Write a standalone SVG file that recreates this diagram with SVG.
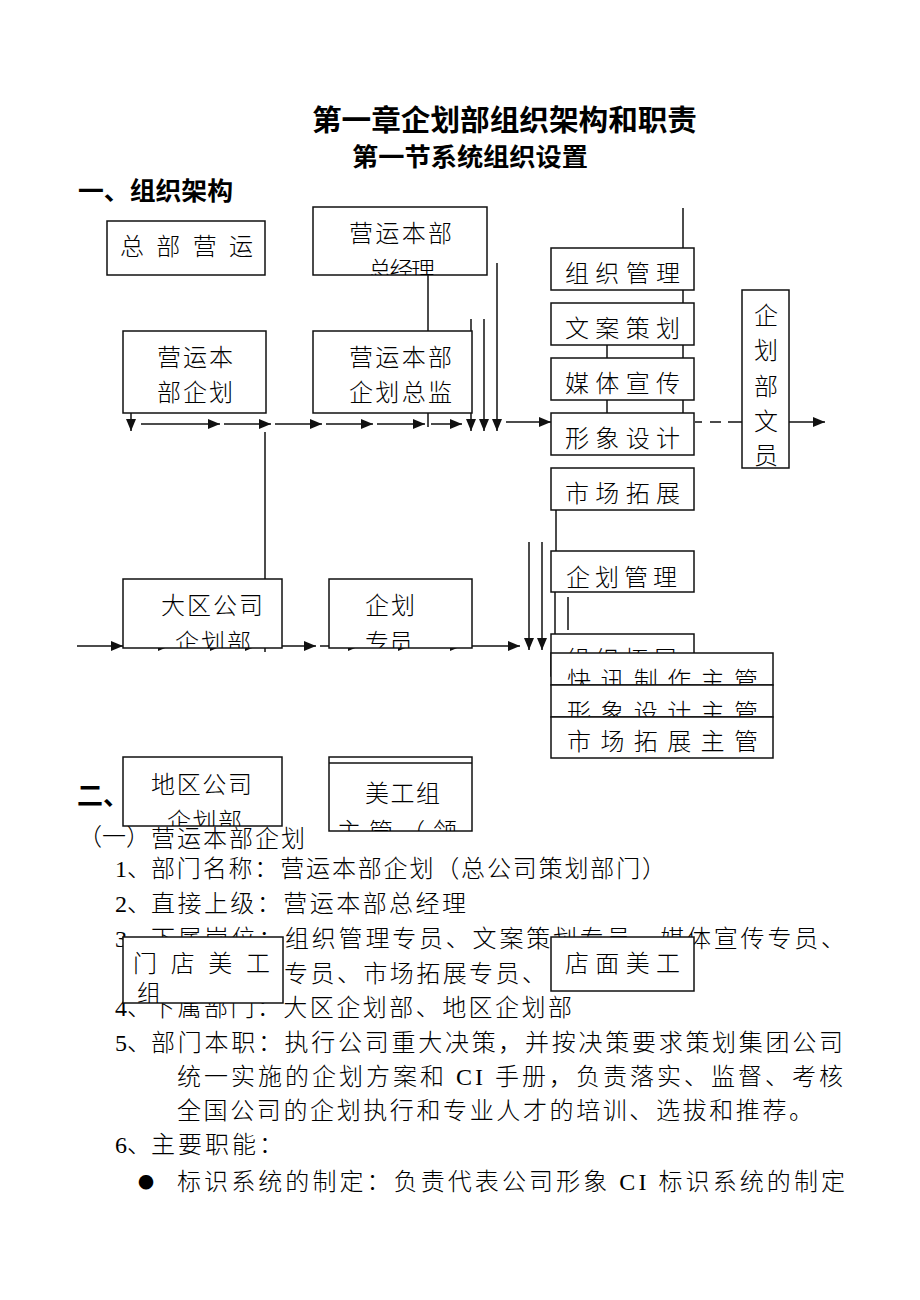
<svg xmlns="http://www.w3.org/2000/svg" width="920" height="1300" viewBox="0 0 920 1300">
<style>
.h{font-family:"Noto Sans CJK SC",sans-serif;font-weight:700;fill:#000}
.t{font-family:"Liberation Serif","Noto Sans CJK SC",serif;font-weight:300;fill:#000;font-size:24px}
.bt{font-family:"Liberation Serif","Noto Sans CJK SC",serif;font-weight:300;fill:#000;font-size:24px}
.bx{fill:#fff;stroke:#111;stroke-width:1.5}
.ln{fill:none;stroke:#111;stroke-width:1.5}
.ar{fill:none;stroke:#111;stroke-width:1.5;marker-end:url(#ah)}
</style>
<defs>
<marker id="ah" viewBox="0 0 12 10" markerWidth="12" markerHeight="10" refX="12" refY="5" orient="auto" markerUnits="userSpaceOnUse"><path d="M0,0L12,5L0,10z" fill="#111"/></marker>
<clipPath id="c-zjl"><rect x="313" y="207" width="174" height="68"/></clipPath>
<clipPath id="c-dq"><rect x="123" y="579" width="159" height="69"/></clipPath>
<clipPath id="c-qhzy"><rect x="329" y="579" width="143" height="69"/></clipPath>
<clipPath id="c-dqgs"><rect x="123" y="757" width="159" height="69"/></clipPath>
<clipPath id="c-mgz"><rect x="329" y="757" width="143" height="74"/></clipPath>
<clipPath id="c-mdmg"><rect x="123" y="937" width="160" height="66"/></clipPath>
</defs>

<g id="titles">
<text class="h" x="312" y="131" font-size="29" textLength="385" lengthAdjust="spacingAndGlyphs">第一章企划部组织架构和职责</text>
<text class="h" x="352" y="166" font-size="25" textLength="236" lengthAdjust="spacingAndGlyphs">第一节系统组织设置</text>
<text class="h" x="78" y="200" font-size="25" textLength="155" lengthAdjust="spacingAndGlyphs">一、组织架构</text>
</g>

<g id="body">
<text class="h" x="77" y="805" font-size="26">二、</text>
<text class="t" x="78" y="845" font-size="20">（一）</text>
<text class="t" x="151" y="847" textLength="154">营运本部企划</text>
<text class="t" x="115" y="877">1、</text>
<text class="t" x="151" y="877" textLength="515">部门名称：营运本部企划（总公司策划部门）</text>
<text class="t" x="115" y="912">2、</text>
<text class="t" x="151" y="912" textLength="315">直接上级：营运本部总经理</text>
<text class="t" x="115" y="947">3、</text>
<text class="t" x="151" y="947" textLength="694">下属岗位：组织管理专员、文案策划专员、媒体宣传专员、</text>
<text class="t" x="284" y="982" textLength="262">专员、市场拓展专员、</text>
<text class="t" x="115" y="1016">4、</text>
<text class="t" x="151" y="1016" textLength="421">下属部门：大区企划部、地区企划部</text>
<text class="t" x="115" y="1051">5、</text>
<text class="t" x="151" y="1051" textLength="692">部门本职：执行公司重大决策，并按决策要求策划集团公司</text>
<text class="t" x="177" y="1085" textLength="666">统一实施的企划方案和 CI 手册，负责落实、监督、考核</text>
<text class="t" x="177" y="1119" textLength="636">全国公司的企划执行和专业人才的培训、选拔和推荐。</text>
<text class="t" x="115" y="1153">6、</text>
<text class="t" x="151" y="1153" textLength="132">主要职能：</text>
<text x="138" y="1188" font-family="Noto Sans CJK SC,sans-serif" font-size="16">●</text>
<text class="t" x="177" y="1190" textLength="668">标识系统的制定：负责代表公司形象 CI 标识系统的制定</text>
</g>

<g id="connectors">
<path class="ar" d="M131,413V431"/>
<path class="ar" d="M141,424H220"/>
<path class="ar" d="M224,424H271"/>
<path class="ar" d="M275,424H322"/>
<path class="ar" d="M326,424H373"/>
<path class="ar" d="M377,424H425"/>
<path class="ln" d="M428,275V427"/>
<path class="ar" d="M431,424H462"/>
<path class="ar" d="M471,319V431"/>
<path class="ar" d="M484,319V431"/>
<path class="ar" d="M497,263V431"/>
<path class="ar" d="M506,422H551"/>
<path class="ln" d="M265,432V652"/>
<path class="ln" d="M683,208V413"/>
<path class="ln" d="M607,345V413"/>
<path class="ln" d="M695,422H702M710,422H721M728,422H742"/>
<path class="ar" d="M789,422H825"/>
<path class="ln" d="M556,510V552"/>
<path class="ln" d="M555,592V634"/>
<path class="ln" d="M568,597V630"/>
<path class="ar" d="M529,542V650"/>
<path class="ar" d="M542,542V650"/>
<path class="ar" d="M77,646H123"/>
<path class="ar" d="M128,646H170"/>
<path class="ar" d="M175,646H222"/>
<path class="ar" d="M227,646H257"/>
<path class="ar" d="M282,646H316"/>
<path class="ln" d="M320,646H329"/>
<path class="ar" d="M330,646H360"/>
<path class="ar" d="M365,646H410"/>
<path class="ar" d="M415,646H462"/>
<path class="ar" d="M472,646H520"/>
</g>

<g id="n-zbyy">
<rect class="bx" x="107" y="221" width="158" height="54"/>
<text class="bt" x="120" y="255" font-size="22" textLength="133">总部营运</text>
</g>
<g id="n-zjl">
<rect class="bx" x="313" y="207" width="174" height="68"/>
<text class="bt" x="349" y="242" font-size="25" textLength="103">营运本部</text>
<text class="bt" x="368" y="279" font-size="21" textLength="67" clip-path="url(#c-zjl)">总经理</text>
</g>
<g id="n-qh">
<rect class="bx" x="123" y="331" width="143" height="82"/>
<text class="bt" x="157" y="366" font-size="25" textLength="76">营运本</text>
<text class="bt" x="157" y="401" font-size="25" textLength="76">部企划</text>
</g>
<g id="n-zj">
<rect class="bx" x="313" y="331" width="159" height="82"/>
<text class="bt" x="349" y="366" font-size="25" textLength="103">营运本部</text>
<text class="bt" x="349" y="401" font-size="25" textLength="103">企划总监</text>
</g>
<g id="n-zzgl">
<rect class="bx" x="551" y="248" width="143" height="42"/>
<text class="bt" x="565" y="282" font-size="23" textLength="115">组织管理</text>
</g>
<g id="n-wacd">
<rect class="bx" x="551" y="303" width="143" height="42"/>
<text class="bt" x="565" y="337" font-size="23" textLength="115">文案策划</text>
</g>
<g id="n-mtxc">
<rect class="bx" x="551" y="358" width="143" height="42"/>
<text class="bt" x="565" y="392" font-size="23" textLength="115">媒体宣传</text>
</g>
<g id="n-xxsj">
<rect class="bx" x="551" y="413" width="143" height="42"/>
<text class="bt" x="565" y="447" font-size="23" textLength="115">形象设计</text>
</g>
<g id="n-sctz">
<rect class="bx" x="551" y="468" width="143" height="42"/>
<text class="bt" x="565" y="502" font-size="23" textLength="115">市场拓展</text>
</g>
<g id="n-wy">
<rect class="bx" x="742" y="290" width="47" height="178"/>
<g class="bt" font-size="22" text-anchor="middle">
<text x="766" y="324">企</text>
<text x="766" y="359">划</text>
<text x="766" y="395">部</text>
<text x="766" y="430">文</text>
<text x="766" y="464">员</text>
</g>
</g>
<g id="n-qhgl">
<rect class="bx" x="551" y="551" width="143" height="41"/>
<text class="bt" x="566" y="586" font-size="23" textLength="111">企划管理</text>
</g>
<g id="n-zztz">
<rect class="bx" x="551" y="634" width="143" height="42"/>
<text class="bt" x="566" y="668" font-size="23" textLength="111">组织拓展</text>
</g>
<g id="n-kx">
<rect class="bx" x="551" y="653" width="222" height="32"/>
<text class="bt" x="567" y="689" font-size="24" textLength="191">快讯制作主管</text>
</g>
<g id="n-xxzg">
<rect class="bx" x="551" y="685" width="222" height="32"/>
<text class="bt" x="567" y="721" font-size="24" textLength="191">形象设计主管</text>
</g>
<g id="n-sczg">
<rect class="bx" x="551" y="717" width="222" height="41"/>
<text class="bt" x="567" y="750" font-size="24" textLength="191">市场拓展主管</text>
</g>
<g id="n-dq">
<rect class="bx" x="123" y="579" width="159" height="69"/>
<text class="bt" x="161" y="614" font-size="25" textLength="102">大区公司</text>
<text class="bt" x="175" y="651" font-size="24" textLength="76" clip-path="url(#c-dq)">企划部</text>
</g>
<g id="n-qhzy">
<rect class="bx" x="329" y="579" width="143" height="69"/>
<text class="bt" x="365" y="614" font-size="25" textLength="50">企划</text>
<text class="bt" x="365" y="651" font-size="24" textLength="48" clip-path="url(#c-qhzy)">专员</text>
</g>
<g id="n-dqgs">
<rect class="bx" x="123" y="757" width="159" height="69"/>
<text class="bt" x="151" y="793" font-size="25" textLength="101">地区公司</text>
<text class="bt" x="167" y="830" font-size="24" textLength="75" clip-path="url(#c-dqgs)">企划部</text>
</g>
<g id="n-mgz">
<rect class="bx" x="329" y="757" width="143" height="74"/>
<path class="ln" d="M329,763H472"/>
<text class="bt" x="365" y="802" font-size="25" textLength="75">美工组</text>
<text class="bt" x="337" y="840" font-size="24" textLength="120" clip-path="url(#c-mgz)">主管（领</text>
</g>
<g id="n-mdmg">
<rect class="bx" x="123" y="937" width="160" height="66"/>
<text class="bt" x="133" y="972" font-size="24" textLength="137">门店美工</text>
<text class="bt" x="137" y="1002" font-size="24" clip-path="url(#c-mdmg)">组</text>
</g>
<g id="n-dmmg">
<rect class="bx" x="551" y="937" width="143" height="54"/>
<text class="bt" x="565" y="972" font-size="24" textLength="115">店面美工</text>
</g>
</svg>
